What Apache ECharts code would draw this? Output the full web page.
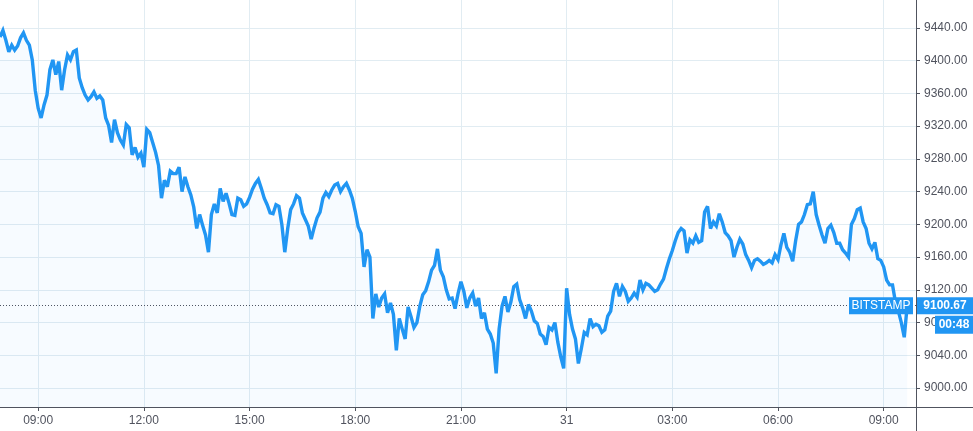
<!DOCTYPE html>
<html>
<head>
<meta charset="utf-8">
<script src="https://cdn.jsdelivr.net/npm/echarts@6/dist/echarts.min.js"></script>
<style>
html,body{margin:0;padding:0;background:#fff;}
#chart{width:973px;height:431px;}
</style>
</head>
<body>
<div id="chart"></div>
<script>
// ---- data (BTC/USD, Bitstamp, 5-minute samples) ----
const startDate = '2019-10-30 07:55';
const stepMinutes = 5;
const slotCount = 313; // visible time slots (07:55 .. 09:55 next day)
const prices = [
9429,9437,9425,9411,9419,9413,9418,9428,9434,9425,
9419,9401,9364,9342,9330,9346,9358,9389,9401,9383,
9399,9364,9389,9407,9401,9411,9413,9379,9367,9358,
9352,9356,9362,9354,9357,9352,9330,9321,9300,9328,
9312,9303,9297,9322,9318,9285,9294,9282,9287,9270,
9316,9312,9300,9288,9272,9232,9254,9246,9265,9262,
9262,9270,9240,9258,9246,9236,9221,9195,9212,9199,
9187,9166,9212,9225,9214,9244,9228,9238,9226,9212,
9211,9232,9230,9222,9225,9233,9243,9250,9255,9244,
9232,9224,9214,9213,9224,9222,9200,9166,9195,9218,
9225,9235,9232,9214,9206,9198,9182,9196,9208,9215,
9232,9239,9234,9242,9248,9250,9240,9246,9250,9242,
9232,9216,9197,9189,9148,9169,9160,9085,9115,9099,
9110,9115,9092,9104,9090,9046,9085,9072,9060,9099,
9087,9074,9080,9100,9114,9119,9130,9144,9150,9170,
9144,9136,9120,9109,9110,9097,9115,9130,9118,9098,
9110,9116,9100,9110,9085,9092,9072,9066,9055,9018,
9072,9100,9112,9093,9105,9124,9127,9108,9098,9085,
9102,9094,9082,9079,9066,9063,9053,9074,9071,9080,
9056,9038,9024,9122,9090,9072,9060,9030,9048,9068,
9065,9085,9075,9078,9076,9068,9071,9088,9094,9118,
9128,9112,9124,9118,9106,9110,9116,9111,9132,9120,
9128,9126,9122,9118,9120,9127,9133,9146,9158,9168,
9180,9190,9195,9192,9165,9181,9177,9186,9178,9180,
9215,9222,9195,9203,9198,9213,9203,9190,9186,9180,
9160,9172,9182,9176,9163,9156,9147,9156,9158,9155,
9151,9153,9156,9153,9163,9157,9175,9189,9172,9166,
9155,9180,9200,9203,9212,9224,9225,9240,9212,9199,
9187,9177,9195,9199,9190,9177,9177,9169,9165,9160,
9200,9207,9218,9220,9203,9195,9177,9170,9178,9158,
9156,9148,9132,9126,9126,9105,9094,9080,9062,9100.67
];
const lastPrice = 9100.67;
const exchangeName = 'BITSTAMP';
const countdown = '00:48';
const yMin = 8976.8, yMax = 9474.2, yStep = 40;

// ---- build time categories ----
function pad(n){return (n<10?'0':'')+n;}
const p = startDate.split(/[- :]/).map(Number);
const t0 = Date.UTC(p[0], p[1]-1, p[2], p[3], p[4]);
const categories = [];
for (let i = 0; i < slotCount; i++) {
  const d = new Date(t0 + i*stepMinutes*60000);
  categories.push(d.getUTCFullYear()+'-'+pad(d.getUTCMonth()+1)+'-'+pad(d.getUTCDate())+' '+pad(d.getUTCHours())+':'+pad(d.getUTCMinutes()));
}
function isMajor(index, value){
  const hh = +value.slice(11,13), mm = +value.slice(14,16);
  return mm === 0 && hh % 3 === 0;
}
const axisColor = '#50535e';
const gridColor = '#e1ecf2';
const blue = '#2196f3';
const font = '"Liberation Sans", Arial, sans-serif';
const lastCat = categories[categories.length-1];
const W = 973, H = 431, gridRight = 57, gridBottom = 24;

const chart = echarts.init(document.getElementById('chart'), null, {renderer:'canvas'});
chart.setOption({
  animation: false,
  backgroundColor: '#ffffff',
  grid: {left: 0, right: gridRight, top: 0, bottom: gridBottom, containLabel: false},
  graphic: [
    {type: 'line', silent: true, z: 10,
     shape: {x1: W - gridRight + 0.5, y1: H - gridBottom, x2: W - gridRight + 0.5, y2: H},
     style: {stroke: axisColor, lineWidth: 1}},
    {type: 'line', silent: true, z: 10,
     shape: {x1: W - gridRight, y1: H - gridBottom + 0.5, x2: W, y2: H - gridBottom + 0.5},
     style: {stroke: axisColor, lineWidth: 1}}
  ],
  xAxis: {
    type: 'category',
    data: categories,
    boundaryGap: false,
    axisLine: {show: true, lineStyle: {color: axisColor, width: 1}},
    axisTick: {show: true, interval: isMajor, length: 4, lineStyle: {color: axisColor}},
    axisLabel: {
      interval: isMajor, color: axisColor, fontSize: 12, fontFamily: font, margin: 8,
      formatter: function(v){ const hh = +v.slice(11,13); return hh === 0 ? String(+v.slice(8,10)) : v.slice(11,16); }
    },
    splitLine: {show: true, interval: isMajor, lineStyle: {color: gridColor, width: 1}}
  },
  yAxis: {
    type: 'value',
    position: 'right',
    min: yMin, max: yMax,
    minInterval: yStep, maxInterval: yStep,
    scale: true,
    axisLine: {show: true, lineStyle: {color: axisColor, width: 1}},
    axisTick: {show: true, length: 4, lineStyle: {color: axisColor}},
    axisLabel: {
      color: axisColor, fontSize: 12, fontFamily: font, margin: 8,
      showMinLabel: false, showMaxLabel: false,
      formatter: function(v){ return v.toFixed(2); }
    },
    splitLine: {show: true, showMinLine: false, showMaxLine: false, lineStyle: {color: gridColor, width: 1}}
  },
  series: [{
    type: 'line',
    data: prices,
    showSymbol: false,
    symbol: 'none',
    lineStyle: {color: blue, width: 3.4, join: 'miter', miterLimit: 3},
    itemStyle: {color: blue},
    areaStyle: {color: 'rgba(33,150,243,0.05)', origin: 'start'},
    markLine: {
      silent: true,
      symbol: ['none','none'],
      label: {show: false},
      lineStyle: {color: axisColor, type: [1,2], width: 1},
      data: [{yAxis: lastPrice}],
      z: 1
    },
    markPoint: {
      silent: true,
      data: [
        {coord: [lastCat, lastPrice], symbol: 'rect', symbolSize: [64,17], symbolOffset: [-35,0],
         itemStyle: {color: blue},
         label: {show: true, position: 'inside', formatter: exchangeName, color: '#fff', fontSize: 12, fontFamily: font}},
        {coord: [lastCat, lastPrice], symbol: 'rect', symbolSize: [56,17], symbolOffset: [29,0],
         itemStyle: {color: blue},
         label: {show: true, position: 'inside', formatter: lastPrice.toFixed(2), color: '#fff', fontSize: 12, fontWeight: 'bold', fontFamily: font}},
        {coord: [lastCat, lastPrice], symbol: 'rect', symbolSize: [38,18], symbolOffset: [38,19],
         itemStyle: {color: blue},
         label: {show: true, position: 'inside', formatter: countdown, color: '#fff', fontSize: 12, fontWeight: 'bold', fontFamily: font}}
      ]
    }
  }]
});
</script>
</body>
</html>
